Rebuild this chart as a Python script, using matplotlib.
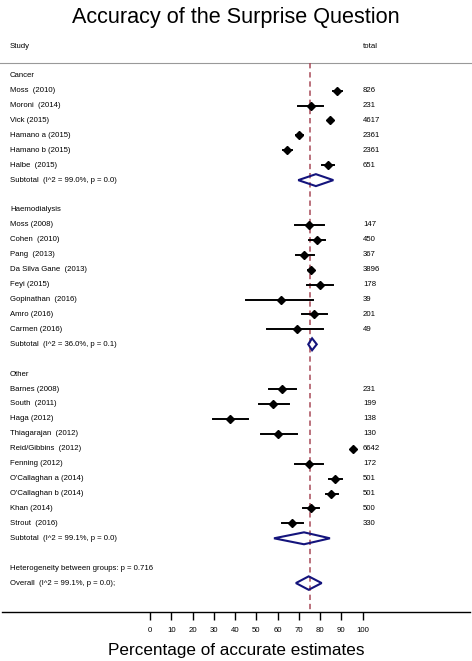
import matplotlib.pyplot as plt
import matplotlib.transforms as mtransforms
from matplotlib.patches import Polygon

plt.rcParams['font.family'] = ['Liberation Sans', 'DejaVu Sans']

# study rows: label, estimate, lower CI, upper CI, total
cancer_labels = ['Moss  (2010)', 'Moroni  (2014)', 'Vick (2015)', 'Hamano a (2015)',
                 'Hamano b (2015)', 'Halbe  (2015)']
cancer_est = [88.0, 75.5, 84.6, 70.2, 64.3, 83.5]
cancer_lo = [86.2, 69.8, 83.6, 68.6, 62.7, 80.9]
cancer_hi = [90.1, 81.4, 85.6, 72.1, 66.6, 86.7]
cancer_n = [826, 231, 4617, 2361, 2361, 651]
cancer_sub = [78.0, 69.7, 86.2]

haemo_labels = ['Moss (2008)', 'Cohen  (2010)', 'Pang  (2013)', 'Da Silva Gane  (2013)',
                'Feyi (2015)', 'Gopinathan  (2016)', 'Amro (2016)', 'Carmen (2016)']
haemo_est = [74.9, 78.7, 72.4, 75.5, 79.9, 61.6, 77.2, 69.0]
haemo_lo = [68.2, 74.9, 68.5, 74.1, 74.0, 45.0, 71.3, 54.9]
haemo_hi = [82.0, 82.3, 77.2, 76.8, 85.9, 76.5, 83.0, 81.5]
haemo_n = [147, 450, 367, 3896, 178, 39, 201, 49]
haemo_sub = [76.2, 74.4, 78.4]

other_labels = ['Barnes (2008)', 'South  (2011)', 'Haga (2012)', 'Thiagarajan  (2012)',
                'Reid/Gibbins  (2012)', 'Fenning (2012)', "O'Callaghan a (2014)",
                "O'Callaghan b (2014)", 'Khan (2014)', 'Strout  (2016)']
other_est = [61.9, 57.7, 37.6, 60.3, 95.6, 74.9, 87.1, 85.1, 75.5, 66.6]
other_lo = [56.1, 51.2, 29.8, 52.0, 95.0, 68.2, 84.3, 82.6, 71.8, 61.9]
other_hi = [68.5, 65.2, 46.2, 69.0, 96.3, 81.2, 90.1, 88.5, 79.3, 72.1]
other_n = [231, 199, 138, 130, 6642, 172, 501, 501, 500, 330]
other_sub = [72.4, 58.3, 84.6]

overall = [74.6, 68.6, 80.7]
pooled = 75

groups = [
    ('Cancer', cancer_labels, cancer_est, cancer_lo, cancer_hi, cancer_n, cancer_sub,
     'Subtotal  (I^2 = 99.0%, p = 0.0)'),
    ('Haemodialysis', haemo_labels, haemo_est, haemo_lo, haemo_hi, haemo_n, haemo_sub,
     'Subtotal  (I^2 = 36.0%, p = 0.1)'),
    ('Other', other_labels, other_est, other_lo, other_hi, other_n, other_sub,
     'Subtotal  (I^2 = 99.1%, p = 0.0)'),
]

fig = plt.figure(figsize=(4.72, 6.61), dpi=100)
ax = fig.add_axes([0.005, 0.0741, 0.99, 0.9546 - 0.0741])
W = 472
x0_px, x100_px = 150, 362.7
scale = (x100_px - x0_px) / 100
ax.set_xlim((W * 0.005 - x0_px) / scale, (W * 0.995 - x0_px) / scale)
ax.set_ylim(35.94, -3.06)

trans = mtransforms.blended_transform_factory(fig.transFigure, ax.transData)
lab_x = 10 / W
tot_x = 363 / W
fs = 5.6
navy = '#14147c'


def diamond(row, c, lo, hi, h=0.4):
    ax.add_patch(Polygon([(lo, row), (c, row - h), (hi, row), (c, row + h)],
                         closed=True, fill=False, edgecolor=navy, lw=1.5, zorder=4))


row = 0
for name, labels, est, lo, hi, n, sub, subtxt in groups:
    ax.text(lab_x, row, name, transform=trans, fontsize=fs, va='center')
    row += 1
    for i in range(len(labels)):
        ax.text(lab_x, row, labels[i], transform=trans, fontsize=fs, va='center')
        ax.text(tot_x, row, str(n[i]), transform=trans, fontsize=fs, va='center')
        ax.plot([lo[i], hi[i]], [row, row], color='black', lw=1.4, zorder=3)
        ax.plot(est[i], row, marker='D', color='black', ms=4.4, zorder=5)
        row += 1
    ax.text(lab_x, row, subtxt, transform=trans, fontsize=fs, va='center')
    diamond(row, sub[0], sub[1], sub[2])
    row += 2

ax.text(lab_x, row, 'Heterogeneity between groups: p = 0.716', transform=trans,
        fontsize=fs, va='center')
row += 1
ax.text(lab_x, row, 'Overall  (I^2 = 99.1%, p = 0.0);', transform=trans,
        fontsize=fs, va='center')
diamond(row, overall[0], overall[1], overall[2], h=0.45)

# header
ax.text(lab_x, -1.95, 'Study', transform=trans, fontsize=fs, va='center')
ax.text(tot_x, -1.95, 'total', transform=trans, fontsize=fs, va='center')
ax.plot([0, 1], [-0.85, -0.85], transform=trans, color='#999999', lw=0.8, clip_on=False)

ax.plot([pooled, pooled], [-0.85, 35.94], color='#a84a58', lw=1.1,
        dashes=(3.5, 2.5), zorder=2)

for s in ['top', 'left', 'right']:
    ax.spines[s].set_visible(False)
ax.spines['bottom'].set_linewidth(1.0)
ax.set_yticks([])
ax.set_xticks(range(0, 101, 10))
ax.tick_params(axis='x', length=6, width=1.0, labelsize=fs, pad=5)
ax.set_xlabel('Percentage of accurate estimates', fontsize=12.3, labelpad=6)

fig.suptitle('Accuracy of the Surprise Question', fontsize=15.6, y=0.99)

fig.savefig('out.png', dpi=100)
